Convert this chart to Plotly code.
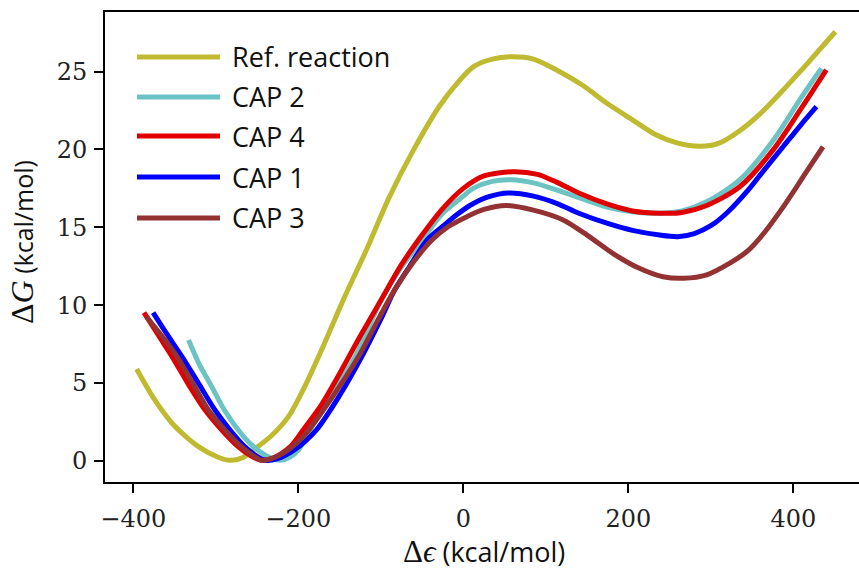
import plotly.graph_objects as go

# ---------------- data ----------------
names = ["Ref. reaction", "CAP 2", "CAP 4", "CAP 1", "CAP 3"]
colors = ["#bfba2f", "#6cc3c3", "#e00000", "#0000ff", "#923232"]

ref_x = [-396, -375, -353, -337, -321, -300, -284, -268, -252, -232, -212, -192, -172, -145, -117, -90, -60, -28, -5, 12, 35, 60, 85, 113, 145, 174, 205, 234, 260, 287, 310, 335, 360, 384, 410, 430, 451]
ref_y = [5.9, 4.0, 2.42, 1.6, 0.92, 0.3, 0.05, 0.2, 0.8, 1.65, 2.85, 4.8, 7.1, 10.4, 13.6, 16.9, 20.0, 22.85, 24.4, 25.3, 25.8, 25.95, 25.8, 25.1, 24.1, 22.96, 21.9, 20.92, 20.4, 20.2, 20.4, 21.2, 22.3, 23.6, 25.1, 26.3, 27.55]

cap2_x = [-333, -320, -305, -290, -273, -258, -244, -232, -222, -210, -200, -186, -160, -131, -100, -77, -50, -25, 0, 12, 35, 58, 85, 113, 140, 174, 205, 238, 265, 295, 335, 376, 408, 434]
cap2_y = [7.77, 6.2, 4.77, 3.3, 2.0, 1.1, 0.5, 0.15, 0.05, 0.25, 0.7, 2.0, 4.2, 6.7, 10.3, 12.3, 14.2, 15.9, 17.0, 17.5, 17.95, 18.05, 17.85, 17.4, 16.9, 16.3, 16.0, 15.9, 16.05, 16.64, 18.04, 20.6, 23.2, 25.2]

cap4_x = [-387, -370, -353, -333, -313, -293, -273, -258, -245, -230, -210, -194, -172, -150, -125, -100, -75, -50, -25, 0, 25, 60, 90, 113, 140, 174, 205, 238, 265, 295, 335, 376, 408, 440]
cap4_y = [9.52, 8.1, 6.7, 4.9, 3.27, 2.0, 0.92, 0.35, 0.05, 0.2, 0.9, 2.0, 3.6, 5.6, 8.0, 10.3, 12.6, 14.5, 16.2, 17.5, 18.3, 18.57, 18.4, 17.9, 17.2, 16.5, 16.05, 15.9, 15.95, 16.4, 17.6, 20.0, 22.5, 25.1]

cap1_x = [-376, -360, -341, -320, -301, -283, -265, -250, -240, -225, -205, -178, -150, -123, -100, -83, -65, -44, -24, -8, 8, 30, 55, 85, 113, 140, 174, 205, 238, 260, 280, 300, 320, 347, 365, 388, 408, 428]
cap1_y = [9.52, 8.2, 6.7, 4.9, 3.27, 2.0, 0.92, 0.3, 0.05, 0.15, 0.7, 2.0, 4.2, 6.7, 9.1, 11.0, 12.5, 14.18, 15.1, 15.8, 16.4, 16.95, 17.2, 17.0, 16.54, 15.9, 15.26, 14.8, 14.5, 14.4, 14.6, 15.1, 15.95, 17.5, 18.7, 20.2, 21.5, 22.74]

cap3_x = [-384, -365, -347, -328, -309, -289, -269, -255, -245, -230, -210, -190, -160, -127, -105, -83, -60, -38, -18, 5, 25, 52, 85, 121, 150, 182, 212, 242, 267, 295, 323, 345, 364, 385, 404, 420, 436]
cap3_y = [9.26, 8.0, 6.7, 5.0, 3.27, 2.0, 0.92, 0.35, 0.05, 0.2, 0.8, 1.8, 4.0, 6.7, 8.9, 11.0, 12.8, 14.18, 15.05, 15.7, 16.15, 16.4, 16.1, 15.47, 14.5, 13.3, 12.4, 11.83, 11.73, 11.95, 12.7, 13.5, 14.6, 16.1, 17.6, 18.9, 20.17]

xs = [ref_x, cap2_x, cap4_x, cap1_x, cap3_x]
ys = [ref_y, cap2_y, cap4_y, cap1_y, cap3_y]

x_ticks = [-400, -200, 0, 200, 400]
y_ticks = [0, 5, 10, 15, 20, 25]

# ---------------- figure ----------------
W, H = 859, 571
L, R, T, B = 105, 0, 12, 89
pw, ph = W - L - R, H - T - B

fig = go.Figure()
for n, c, x, y in zip(names, colors, xs, ys):
    fig.add_trace(go.Scatter(x=x, y=y, mode="lines", name=n,
                             line=dict(color=c, width=5, shape="spline", smoothing=0.8),
                             showlegend=False))

serif = "DejaVu Serif, Liberation Serif, serif"
mathserif = "Liberation Serif, DejaVu Serif, serif"
sans = "Open Sans, DejaVu Sans, sans-serif"

fig.update_layout(
    width=W, height=H,
    margin=dict(l=L, r=R, t=T, b=B),
    paper_bgcolor="white", plot_bgcolor="white",
    xaxis=dict(range=[-434.3, 479.6], tickvals=x_ticks, ticks="outside", ticklen=9, tickwidth=1.5,
               tickcolor="black", showline=True, linecolor="black", linewidth=2, mirror=True,
               showgrid=False, zeroline=False,
               tickfont=dict(family=serif, size=24, color="#222"), ticklabelstandoff=5),
    yaxis=dict(range=[-1.35, 28.82], tickvals=y_ticks, ticks="outside", ticklen=9, tickwidth=1.5,
               tickcolor="black", showline=True, linecolor="black", linewidth=2, mirror=False,
               showgrid=False, zeroline=False,
               tickfont=dict(family=serif, size=24, color="#222"), ticklabelstandoff=2),
)

def px2paper(px, py):
    return (px - L) / pw, (H - B - py) / ph

# axis titles
ax, ay = px2paper(484, 551)
fig.add_annotation(x=ax, y=ay, xref="paper", yref="paper", showarrow=False,
                   xanchor="center", yanchor="middle",
                   text='<span style="font-family:Liberation Serif, DejaVu Serif, serif;font-size:31px">Δ<i>ϵ</i></span> (kcal/mol)',
                   font=dict(family=sans, size=27, color="#111"))
ax, ay = px2paper(22, 242)
fig.add_annotation(x=ax, y=ay, xref="paper", yref="paper", showarrow=False,
                   xanchor="center", yanchor="middle", textangle=-90,
                   text='<span style="font-family:Liberation Serif, DejaVu Serif, serif;font-size:32px">Δ<i>G</i></span> (kcal/mol)',
                   font=dict(family=sans, size=25, color="#111"))

# legend (drawn manually to match long sample lines)
leg_y = [57, 97, 136, 177, 218]
for n, c, py in zip(names, colors, leg_y):
    x0, y0 = px2paper(137, py)
    x1, _ = px2paper(220, py)
    fig.add_shape(type="line", xref="paper", yref="paper", x0=x0, x1=x1, y0=y0, y1=y0,
                  line=dict(color=c, width=5))
    tx, _ = px2paper(230, py)
    fig.add_annotation(x=tx, y=y0, xref="paper", yref="paper", showarrow=False,
                       xanchor="left", yanchor="middle", text=n,
                       font=dict(family=sans, size=27, color="#111"))

fig.write_html("out.html")
